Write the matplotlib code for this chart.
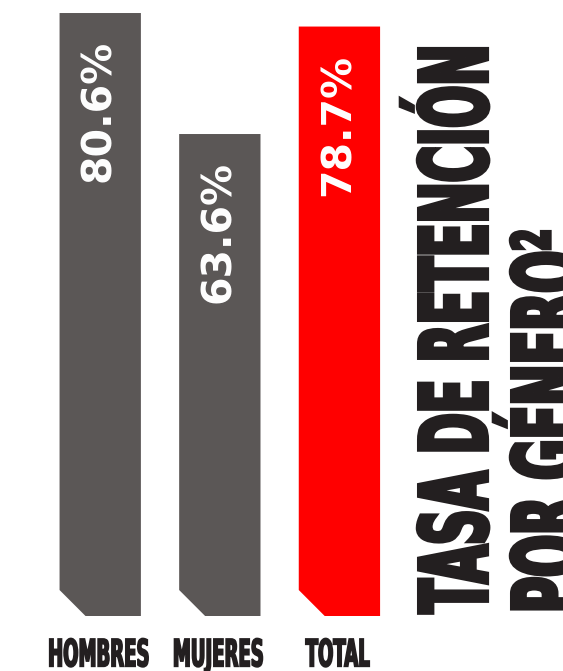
import matplotlib
matplotlib.use("Agg")
import matplotlib.pyplot as plt
from matplotlib.patches import Polygon
from matplotlib.patheffects import AbstractPathEffect
from matplotlib.transforms import Affine2D, blended_transform_factory

# data
categories = ["HOMBRES", "MUJERES", "TOTAL"]
retention = [80.6, 63.6, 78.7]
bar_colors = ["#5b5756", "#5b5756", "#ff0000"]
title_lines = ["TASA DE RETENCIÓN", "POR GÉNERO²"]

dark = "#231f20"


class Tall(AbstractPathEffect):
    """Stretch glyphs up from the baseline so a normal bold font looks
    like a tall condensed one, and thicken them with a same colour outline."""

    def __init__(self, sy=2.0, lw=0.0):
        super().__init__()
        self.sy = sy
        self.lw = lw

    def draw_path(self, renderer, gc, tpath, affine, rgbFace=None):
        gc0 = renderer.new_gc()
        gc0.copy_properties(gc)
        if self.lw and rgbFace is not None:
            gc0.set_linewidth(self.lw)
            gc0.set_foreground(rgbFace)
            gc0.set_joinstyle("miter")
        renderer.draw_path(gc0, tpath, Affine2D().scale(1, self.sy) + affine, rgbFace)
        gc0.restore()


fig = plt.figure(figsize=(5.63, 6.71), dpi=100)
ax = fig.add_axes([0.0718, 0.08197, 0.6373, 0.91803])
base = -4.12
ax.set_xlim(-0.5, 2.5)
ax.set_ylim(base, 82.43)
ax.axis("off")

width = 0.68
cx, cy = 0.217, 3.65   # chamfer on the lower-left corner
for i, (v, c) in enumerate(zip(retention, bar_colors)):
    x0, x1 = i - width / 2, i + width / 2
    poly = Polygon([(x0, v), (x1, v), (x1, base), (x0 + cx, base), (x0, base + cy)],
                   closed=True, facecolor=c, edgecolor="none")
    ax.add_patch(poly)
    ax.annotate(f"{v}%", xy=(i, v), xytext=(-1, -27), textcoords="offset pixels",
                rotation=90, ha="center", va="top", color="white",
                fontsize=29.5, fontweight="bold", family="DejaVu Sans")

# category labels under the bars
trans = blended_transform_factory(ax.transData, fig.transFigure)
for i, lab in enumerate(categories):
    ax.text(i - 0.015, 0.001, lab, transform=trans, ha="center", va="bottom",
            fontsize=13, fontweight="bold", color=dark, family="DejaVu Sans",
            path_effects=[Tall(2.08, lw=1.2)])

# vertical title on the right (second line runs off the edge, as in the original)
title_x = [487 / 563, 580 / 563]
for tx, line in zip(title_x, title_lines):
    fig.text(tx, 58 / 671, line, rotation=90, rotation_mode="anchor",
             ha="left", va="baseline", fontsize=35.5, fontweight="bold",
             color=dark, family="DejaVu Sans",
             path_effects=[Tall(1.89, lw=3.0)])

fig.savefig("out.png", dpi=100)
